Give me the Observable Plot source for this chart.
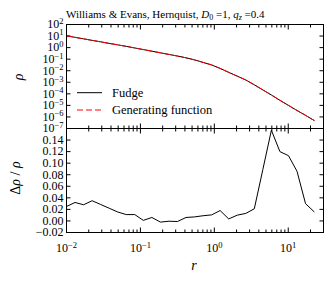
<!DOCTYPE html>
<html><head><meta charset="utf-8">
<script src="https://cdn.jsdelivr.net/npm/d3@7"></script>
<script src="https://cdn.jsdelivr.net/npm/@observablehq/plot@0.6"></script>
<style>
body{margin:0;background:#fff;}
#chart{position:relative;width:333px;height:283px;background:#fff;font-family:"Liberation Serif","Times New Roman",serif;}
#chart svg{position:absolute;left:0;top:0;}
</style></head><body><div id="chart"></div>
<script>
const radius = [0.01, 0.01305, 0.01702, 0.02221, 0.02897, 0.0378, 0.04932, 0.06434, 0.08395, 0.1095,
  0.1429, 0.1865, 0.2432, 0.3173, 0.414, 0.5401, 0.7047, 0.9194, 1.1995, 1.565,
  2.042, 2.664, 3.475, 4.534, 5.916, 7.718, 10.07, 13.14, 17.14, 22.36];
const rhoGenerating = [10.5, 7.76, 5.73, 4.25, 3.15, 2.33, 1.73, 1.28, 0.933, 0.675,
  0.489, 0.355, 0.256, 0.186, 0.131, 0.0867, 0.0524, 0.0316, 0.0158, 7.24e-3,
  3.39e-3, 1.58e-3, 6.03e-4, 2.19e-4, 7.94e-5, 2.75e-5, 1.0e-5, 3.63e-6, 1.38e-6, 5.0e-7];
const rhoFudge = [10.5, 7.76, 5.73, 4.25, 3.15, 2.33, 1.73, 1.28, 0.933, 0.675,
  0.489, 0.355, 0.256, 0.186, 0.131, 0.0867, 0.0524, 0.0316, 0.0158, 7.24e-3,
  3.39e-3, 1.58e-3, 6.03e-4, 2.19e-4, 7.94e-5, 2.75e-5, 1.0e-5, 3.63e-6, 1.38e-6, 5.0e-7];
const deltaRho = [0.025, 0.032, 0.028, 0.035, 0.0285, 0.022, 0.0155, 0.011, 0.011, 0.001,
  0.006, -0.002, -0.0005, -0.001, 0.006, 0.007, 0.009, 0.0105, 0.018, 0.0035,
  0.010, 0.013, 0.021, 0.089, 0.157, 0.120, 0.113, 0.086, 0.030, 0.016];

const xTicks = [0.01, 0.1, 1, 10];
const xTickLabels = ["10^\u22122", "10^\u22121", "10^0", "10^1"];
const xMinorTicks = [0.02,0.03,0.04,0.05,0.06,0.07,0.08,0.09,0.2,0.3,0.4,0.5,0.6,0.7,0.8,0.9,2,3,4,5,6,7,8,9,20,30];
const yTopTicks = [1e2, 1e1, 1e0, 1e-1, 1e-2, 1e-3, 1e-4, 1e-5, 1e-6, 1e-7];
const yTopLabels = ["10^2","10^1","10^0","10^\u22121","10^\u22122","10^\u22123","10^\u22124","10^\u22125","10^\u22126","10^\u22127"];
const yBottomTicks = [-0.02, 0, 0.02, 0.04, 0.06, 0.08, 0.10, 0.12, 0.14];
const yBottomLabels = ["\u22120.02","0.00","0.02","0.04","0.06","0.08","0.10","0.12","0.14"];
const seriesNames = ["Fudge", "Generating function"];
const titleParts = ["Williams & Evans, Hernquist, ", "D", "0", " =1, ", "q", "z", " =0.4"];

const topData = radius.map((r, i) => ({r, fudge: rhoFudge[i], gen: rhoGenerating[i]}));
const bottomData = radius.map((r, i) => ({r, d: deltaRho[i]}));

const W = 333, H = 283, ML = 66, MR = 10;
const common = {width: W, height: H, marginLeft: ML, marginRight: MR,
  style: {background: "transparent", fontFamily: '"Liberation Serif","Times New Roman",serif', fontSize: "12px", color: "#000", overflow: "visible"}};
const xs = {type: "log", domain: [0.01, 30]};
const tk = (o) => ({stroke: "#000", fill: "none", label: null, ...o});

const svgTop = Plot.plot({...common, marginTop: 24, marginBottom: H - 128,
  x: xs, y: {type: "log", domain: [1e-7, 1e2]},
  marks: [
    Plot.axisX(xTicks, tk({anchor: "bottom", tickSize: -4.5})),
    Plot.axisX(xMinorTicks, tk({anchor: "bottom", tickSize: -2.5})),
    Plot.axisX(xTicks, tk({anchor: "top", tickSize: -4.5})),
    Plot.axisX(xMinorTicks, tk({anchor: "top", tickSize: -2.5})),
    Plot.axisY(yTopTicks, tk({anchor: "left", tickSize: -4.5})),
    Plot.axisY(yTopTicks, tk({anchor: "right", tickSize: -4.5})),
    Plot.axisY(yTopTicks, {anchor: "left", tickSize: 0, tickPadding: 3, stroke: "none", fill: "#000", label: null,
      tickFormat: d => yTopLabels[yTopTicks.indexOf(d)]}),
    Plot.line(topData, {x: "r", y: "fudge", stroke: "#000", strokeWidth: 1}),
    Plot.line(topData, {x: "r", y: "gen", stroke: "#ff0000", strokeWidth: 1, strokeDasharray: "6,3"}),
    Plot.frame({stroke: "#000", strokeWidth: 1})
  ]});

const svgBottom = Plot.plot({...common, marginTop: 128, marginBottom: H - 232,
  x: xs, y: {domain: [-0.02, 0.16]},
  marks: [
    Plot.axisX(xTicks, tk({anchor: "bottom", tickSize: -4.5})),
    Plot.axisX(xMinorTicks, tk({anchor: "bottom", tickSize: -2.5})),
    Plot.axisX(xTicks, tk({anchor: "top", tickSize: -4.5})),
    Plot.axisX(xMinorTicks, tk({anchor: "top", tickSize: -2.5})),
    Plot.axisX(xTicks, {anchor: "bottom", tickSize: 0, tickPadding: 11, stroke: "none", fill: "#000", label: null,
      tickFormat: d => xTickLabels[xTicks.indexOf(d)]}),
    Plot.axisY(yBottomTicks, tk({anchor: "left", tickSize: -4.5})),
    Plot.axisY(yBottomTicks, tk({anchor: "right", tickSize: -4.5})),
    Plot.axisY(yBottomTicks, {anchor: "left", tickSize: 0, tickPadding: 3, stroke: "none", fill: "#000", label: null,
      tickFormat: d => yBottomLabels[yBottomTicks.indexOf(d)]}),
    Plot.line(bottomData, {x: "r", y: "d", stroke: "#000", strokeWidth: 1}),
    Plot.frame({stroke: "#000", strokeWidth: 1})
  ]});

const chart = document.getElementById("chart");
chart.appendChild(svgTop);
chart.appendChild(svgBottom);

function supify(svg) {
  const ns = "http://www.w3.org/2000/svg";
  svg.querySelectorAll("text").forEach(t => {
    const s = t.textContent;
    if (!s.includes("^")) return;
    const [base, exp] = s.split("^");
    t.textContent = "";
    const a = document.createElementNS(ns, "tspan"); a.textContent = base; t.appendChild(a);
    const b = document.createElementNS(ns, "tspan"); b.textContent = exp;
    b.setAttribute("font-size", "8.5"); b.setAttribute("dy", "-4.5"); t.appendChild(b);
  });
}
supify(svgTop); supify(svgBottom);

const st = d3.select(svgTop);
const title = st.append("text").attr("x", 66).attr("y", 18).attr("text-anchor", "start")
  .attr("font-size", 11).attr("fill", "#000");
title.append("tspan").text(titleParts[0]);
title.append("tspan").attr("font-style", "italic").text(titleParts[1]);
title.append("tspan").attr("font-size", 8).attr("dy", 2).text(titleParts[2]);
title.append("tspan").attr("dy", -2).text(titleParts[3]);
title.append("tspan").attr("font-style", "italic").text(titleParts[4]);
title.append("tspan").attr("font-size", 8).attr("font-style", "italic").attr("dy", 2).text(titleParts[5]);
title.append("tspan").attr("dy", -2).text(titleParts[6]);

// legend
st.append("line").attr("x1", 77).attr("x2", 102).attr("y1", 92.7).attr("y2", 92.7).attr("stroke", "#000").attr("stroke-width", 1);
st.append("text").attr("x", 112).attr("y", 96.5).attr("text-anchor", "start").attr("font-size", 12.5).attr("fill", "#000").text(seriesNames[0]);
st.append("line").attr("x1", 77).attr("x2", 102).attr("y1", 110).attr("y2", 110).attr("stroke", "#ff0000").attr("stroke-width", 1).attr("stroke-dasharray", "6,3");
st.append("text").attr("x", 112).attr("y", 113.8).attr("text-anchor", "start").attr("font-size", 12.5).attr("fill", "#000").text(seriesNames[1]);

// axis labels
st.append("text").attr("transform", "translate(23,77) rotate(-90)").attr("text-anchor", "middle")
  .attr("font-size", 14).attr("font-style", "italic").attr("fill", "#000").text("\u03c1");
const sb = d3.select(svgBottom);
const dl = sb.append("text").attr("transform", "translate(20,178) rotate(-90)").attr("text-anchor", "middle")
  .attr("font-size", 14).attr("fill", "#000");
dl.append("tspan").text("\u0394");
dl.append("tspan").attr("font-style", "italic").text("\u03c1");
dl.append("tspan").text(" / ");
dl.append("tspan").attr("font-style", "italic").text("\u03c1");
sb.append("text").attr("x", 194).attr("y", 270).attr("text-anchor", "middle")
  .attr("font-size", 14).attr("font-style", "italic").attr("fill", "#000").text("r");
</script>
</body></html>
